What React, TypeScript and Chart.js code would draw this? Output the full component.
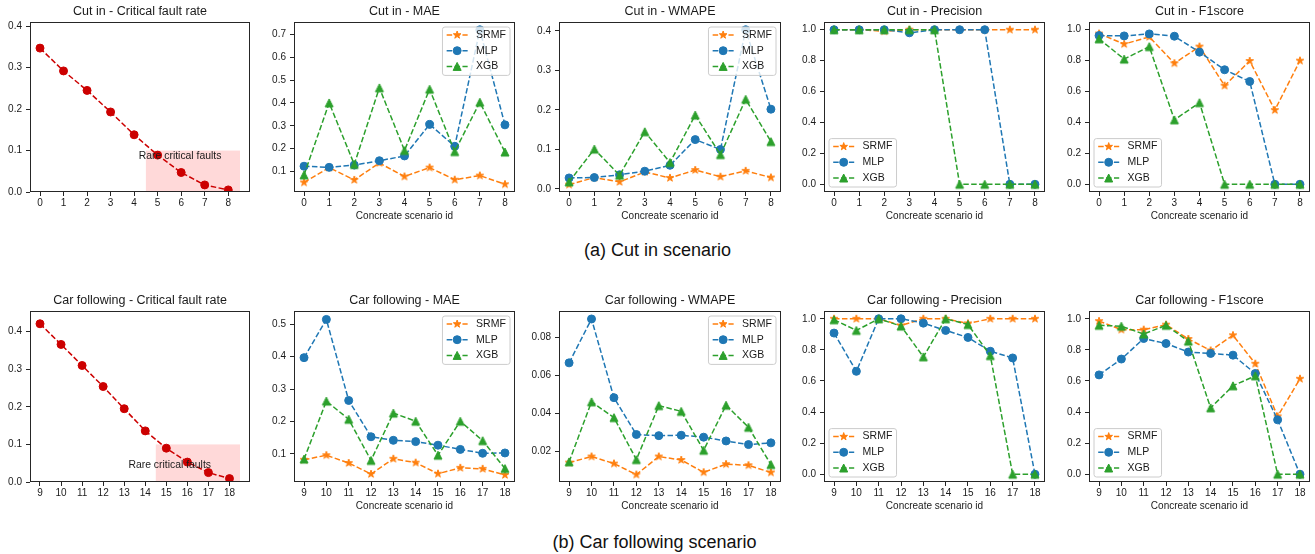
import React, { useEffect, useRef } from "react";
import { Chart, registerables } from "chart.js";

Chart.register(...registerables);

const FONT = '"Liberation Sans", Arial, Helvetica, sans-serif';
const TEXT = "#1a1a1a";

// ---------------- data ----------------
const cutInIds = [0, 1, 2, 3, 4, 5, 6, 7, 8];
const carFollowingIds = [9, 10, 11, 12, 13, 14, 15, 16, 17, 18];

const cutInCFR = [0.347, 0.292, 0.245, 0.193, 0.138, 0.089, 0.047, 0.017, 0.005];
const carFollowingCFR = [0.421, 0.366, 0.31, 0.254, 0.195, 0.136, 0.09, 0.053, 0.025, 0.009];

const cutInMAE_SRMF = [0.052, 0.117, 0.063, 0.137, 0.078, 0.117, 0.064, 0.082, 0.044];
const cutInMAE_MLP = [0.123, 0.118, 0.128, 0.147, 0.168, 0.306, 0.21, 0.72, 0.304];
const cutInMAE_XGB = [0.085, 0.4, 0.131, 0.466, 0.192, 0.46, 0.187, 0.403, 0.185];

const cutInWMAPE_SRMF = [0.011, 0.029, 0.018, 0.043, 0.028, 0.048, 0.031, 0.046, 0.029];
const cutInWMAPE_MLP = [0.028, 0.029, 0.036, 0.045, 0.06, 0.125, 0.1, 0.403, 0.202];
const cutInWMAPE_XGB = [0.018, 0.101, 0.035, 0.145, 0.067, 0.187, 0.087, 0.227, 0.12];

const cutInPrec_SRMF = [1, 1, 0.99, 1, 1, 1, 1, 1, 1];
const cutInPrec_MLP = [1, 1, 1, 0.98, 1, 1, 1, 0, 0];
const cutInPrec_XGB = [1, 1, 1, 1, 1, 0, 0, 0, 0];

const cutInF1_SRMF = [0.975, 0.907, 0.954, 0.783, 0.891, 0.638, 0.798, 0.48, 0.8];
const cutInF1_MLP = [0.962, 0.96, 0.973, 0.958, 0.855, 0.741, 0.665, 0, 0];
const cutInF1_XGB = [0.941, 0.81, 0.891, 0.417, 0.528, 0, 0, 0, 0];

const carMAE_SRMF = [0.082, 0.096, 0.072, 0.038, 0.085, 0.073, 0.039, 0.057, 0.054, 0.035];
const carMAE_MLP = [0.397, 0.515, 0.265, 0.153, 0.142, 0.138, 0.127, 0.114, 0.102, 0.103];
const carMAE_XGB = [0.084, 0.263, 0.207, 0.08, 0.226, 0.201, 0.096, 0.201, 0.141, 0.055];

const carWMAPE_SRMF = [0.014, 0.0172, 0.0135, 0.0077, 0.0172, 0.0154, 0.0089, 0.0132, 0.0126, 0.0088];
const carWMAPE_MLP = [0.0665, 0.0896, 0.0482, 0.0288, 0.0282, 0.0284, 0.0274, 0.0254, 0.0235, 0.0244];
const carWMAPE_XGB = [0.0144, 0.046, 0.0377, 0.0156, 0.044, 0.041, 0.0205, 0.0442, 0.0326, 0.013];

const carPrec_SRMF = [1, 1, 1, 0.957, 1, 1, 0.97, 1, 1, 1];
const carPrec_MLP = [0.908, 0.662, 1, 1, 0.972, 0.925, 0.88, 0.791, 0.748, 0];
const carPrec_XGB = [0.994, 0.925, 1, 0.953, 0.755, 1, 0.963, 0.763, 0, 0];

const carF1_SRMF = [0.985, 0.93, 0.93, 0.962, 0.87, 0.796, 0.894, 0.711, 0.372, 0.614];
const carF1_MLP = [0.639, 0.741, 0.873, 0.841, 0.786, 0.777, 0.766, 0.648, 0.35, 0];
const carF1_XGB = [0.958, 0.952, 0.902, 0.958, 0.856, 0.427, 0.569, 0.633, 0, 0];

const cutInRareSpanX = [4.5, 8.5];
const carFollowingRareSpanX = [14.5, 18.5];
const rareSpanY = [0, 0.1];
const rareLabel = "Rare critical faults";
const cutInRareLabelAt = [4.2, 0.08];
const carFollowingRareLabelAt = [13.2, 0.037];

const yTicksRate = [0, 0.1, 0.2, 0.3, 0.4];
const yTicksScore = [0, 0.2, 0.4, 0.6, 0.8, 1.0];
const yTicksCutInMAE = [0.1, 0.2, 0.3, 0.4, 0.5, 0.6, 0.7];
const yTicksCarMAE = [0.1, 0.2, 0.3, 0.4, 0.5];
const yTicksCarWMAPE = [0.02, 0.04, 0.06, 0.08];

const xAxisTitle = "Concreate scenario id";
const captionA = "(a) Cut in scenario";
const captionB = "(b) Car following scenario";

// ---------------- styles / layout ----------------
type MarkerKind = "circle" | "star" | "triangle";
const SERIES_STYLE: Record<string, { color: string; marker: MarkerKind; order: number }> = {
  SRMF: { color: "#ff7f0e", marker: "star", order: 3 },
  MLP: { color: "#1f77b4", marker: "circle", order: 2 },
  XGB: { color: "#2ca02c", marker: "triangle", order: 1 },
};
const CFR_COLOR = "#cc0000";

const COL_LEFT = [30, 294, 559, 824, 1089];
const COL_RIGHT = [250, 515, 781, 1045, 1310];
const ROW_TOP = [22, 311];
const ROW_BOTTOM = [192, 482];
const PAD_L = 30;
const PAD_T = 22;
const PAD_R = 8;
const PAD_B = 32;

type Series = { label: string; values: number[]; color: string; marker: MarkerKind; order: number };
type Spec = {
  key: string;
  title: string;
  row: number;
  col: number;
  xs: number[];
  xMin: number;
  xMax: number;
  yMin: number;
  yMax: number;
  yTicks: number[];
  yDec: number;
  series: Series[];
  legend: "ur" | "ll" | null;
  xTitle: boolean;
  span?: { x: number[]; y: number[] };
  note?: { at: number[]; text: string };
};

function tri(a: number[], b: number[], c: number[]): Series[] {
  return [
    { label: "SRMF", values: a, ...SERIES_STYLE.SRMF },
    { label: "MLP", values: b, ...SERIES_STYLE.MLP },
    { label: "XGB", values: c, ...SERIES_STYLE.XGB },
  ];
}

const SPECS: Spec[] = [
  {
    key: "c1", title: "Cut in - Critical fault rate", row: 0, col: 0, xs: cutInIds,
    xMin: -0.425, xMax: 8.925, yMin: 0, yMax: 0.41, yTicks: yTicksRate, yDec: 1,
    series: [{ label: "CFR", values: cutInCFR, color: CFR_COLOR, marker: "circle", order: 1 }],
    legend: null, xTitle: false,
    span: { x: cutInRareSpanX, y: rareSpanY }, note: { at: cutInRareLabelAt, text: rareLabel },
  },
  {
    key: "c2", title: "Cut in - MAE", row: 0, col: 1, xs: cutInIds,
    xMin: -0.4, xMax: 8.4, yMin: 0.0102, yMax: 0.754, yTicks: yTicksCutInMAE, yDec: 1,
    series: tri(cutInMAE_SRMF, cutInMAE_MLP, cutInMAE_XGB), legend: "ur", xTitle: true,
  },
  {
    key: "c3", title: "Cut in - WMAPE", row: 0, col: 2, xs: cutInIds,
    xMin: -0.4, xMax: 8.4, yMin: -0.0076, yMax: 0.4226, yTicks: yTicksRate, yDec: 1,
    series: tri(cutInWMAPE_SRMF, cutInWMAPE_MLP, cutInWMAPE_XGB), legend: "ur", xTitle: true,
  },
  {
    key: "c4", title: "Cut in - Precision", row: 0, col: 3, xs: cutInIds,
    xMin: -0.4, xMax: 8.4, yMin: -0.05, yMax: 1.05, yTicks: yTicksScore, yDec: 1,
    series: tri(cutInPrec_SRMF, cutInPrec_MLP, cutInPrec_XGB), legend: "ll", xTitle: true,
  },
  {
    key: "c5", title: "Cut in - F1score", row: 0, col: 4, xs: cutInIds,
    xMin: -0.4, xMax: 8.4, yMin: -0.05, yMax: 1.05, yTicks: yTicksScore, yDec: 1,
    series: tri(cutInF1_SRMF, cutInF1_MLP, cutInF1_XGB), legend: "ll", xTitle: true,
  },
  {
    key: "f1", title: "Car following - Critical fault rate", row: 1, col: 0, xs: carFollowingIds,
    xMin: 8.525, xMax: 18.975, yMin: 0, yMax: 0.455, yTicks: yTicksRate, yDec: 1,
    series: [{ label: "CFR", values: carFollowingCFR, color: CFR_COLOR, marker: "circle", order: 1 }],
    legend: null, xTitle: false,
    span: { x: carFollowingRareSpanX, y: rareSpanY }, note: { at: carFollowingRareLabelAt, text: rareLabel },
  },
  {
    key: "f2", title: "Car following - MAE", row: 1, col: 1, xs: carFollowingIds,
    xMin: 8.55, xMax: 18.45, yMin: 0.0134, yMax: 0.541, yTicks: yTicksCarMAE, yDec: 1,
    series: tri(carMAE_SRMF, carMAE_MLP, carMAE_XGB), legend: "ur", xTitle: true,
  },
  {
    key: "f3", title: "Car following - WMAPE", row: 1, col: 2, xs: carFollowingIds,
    xMin: 8.55, xMax: 18.45, yMin: 0.0038, yMax: 0.0938, yTicks: yTicksCarWMAPE, yDec: 2,
    series: tri(carWMAPE_SRMF, carWMAPE_MLP, carWMAPE_XGB), legend: "ur", xTitle: true,
  },
  {
    key: "f4", title: "Car following - Precision", row: 1, col: 3, xs: carFollowingIds,
    xMin: 8.55, xMax: 18.45, yMin: -0.05, yMax: 1.05, yTicks: yTicksScore, yDec: 1,
    series: tri(carPrec_SRMF, carPrec_MLP, carPrec_XGB), legend: "ll", xTitle: true,
  },
  {
    key: "f5", title: "Car following - F1score", row: 1, col: 4, xs: carFollowingIds,
    xMin: 8.55, xMax: 18.45, yMin: -0.05, yMax: 1.05, yTicks: yTicksScore, yDec: 1,
    series: tri(carF1_SRMF, carF1_MLP, carF1_XGB), legend: "ll", xTitle: true,
  },
];

// ---------------- markers ----------------
function traceMarker(ctx: CanvasRenderingContext2D, kind: MarkerKind, x: number, y: number) {
  ctx.beginPath();
  if (kind === "circle") {
    ctx.arc(x, y, 4, 0, Math.PI * 2);
  } else if (kind === "star") {
    for (let i = 0; i < 10; i++) {
      const a = -Math.PI / 2 + (i * Math.PI) / 5;
      const r = i % 2 === 0 ? 4 : 4 * 0.381966;
      const px = x + r * Math.cos(a);
      const py = y + r * Math.sin(a);
      if (i === 0) ctx.moveTo(px, py);
      else ctx.lineTo(px, py);
    }
  } else {
    ctx.moveTo(x, y - 4);
    ctx.lineTo(x - 4, y + 4);
    ctx.lineTo(x + 4, y + 4);
  }
  ctx.closePath();
}

function paintMarker(ctx: CanvasRenderingContext2D, kind: MarkerKind, x: number, y: number, color: string) {
  ctx.save();
  traceMarker(ctx, kind, x, y);
  ctx.fillStyle = color;
  ctx.fill();
  ctx.lineWidth = 1;
  ctx.strokeStyle = color;
  ctx.lineJoin = "miter";
  ctx.setLineDash([]);
  ctx.stroke();
  ctx.restore();
}

function markerImage(kind: MarkerKind, color: string): HTMLCanvasElement {
  const c = document.createElement("canvas");
  c.width = 14;
  c.height = 14;
  const ctx = c.getContext("2d")!;
  paintMarker(ctx, kind, 7, 7, color);
  return c;
}

function makeFigPlugin(spec: Spec) {
  return {
    id: "figDecor" + spec.key,
    beforeDatasetsDraw(chart: any) {
      if (!spec.span) return;
      const ctx: CanvasRenderingContext2D = chart.ctx;
      const ca = chart.chartArea;
      const xs = chart.scales.x;
      const ys = chart.scales.y;
      const x0 = xs.getPixelForValue(spec.span.x[0]);
      const x1 = xs.getPixelForValue(spec.span.x[1]);
      const y0 = ys.getPixelForValue(spec.span.y[0]);
      const y1 = ys.getPixelForValue(spec.span.y[1]);
      ctx.save();
      ctx.beginPath();
      ctx.rect(ca.left, ca.top, ca.right - ca.left, ca.bottom - ca.top);
      ctx.clip();
      ctx.fillStyle = "rgba(255,0,0,0.15)";
      ctx.fillRect(x0, y1, x1 - x0, y0 - y1);
      ctx.restore();
    },
    afterDatasetsDraw(chart: any) {
      const ctx: CanvasRenderingContext2D = chart.ctx;
      const ca = chart.chartArea;
      if (spec.note) {
        const xs = chart.scales.x;
        const ys = chart.scales.y;
        ctx.save();
        ctx.font = `10.4px ${FONT}`;
        ctx.fillStyle = TEXT;
        ctx.textAlign = "left";
        ctx.textBaseline = "alphabetic";
        ctx.fillText(spec.note.text, xs.getPixelForValue(spec.note.at[0]), ys.getPixelForValue(spec.note.at[1]));
        ctx.restore();
      }
      if (spec.legend) {
        const fs = 10.5;
        const pad = 0.4 * fs;
        const hl = 2 * fs;
        const htp = 0.8 * fs;
        ctx.save();
        ctx.font = `${fs}px ${FONT}`;
        const maxW = Math.max(...spec.series.map((s) => ctx.measureText(s.label).width));
        const w = pad + hl + htp + maxW + pad;
        const h = 48.4;
        const bx = spec.legend === "ur" ? ca.right - 5 - w : ca.left + 5;
        const by = spec.legend === "ur" ? ca.top + 5 : ca.bottom - 5 - h;
        const r = 2.5;
        ctx.beginPath();
        ctx.moveTo(bx + r, by);
        ctx.arcTo(bx + w, by, bx + w, by + h, r);
        ctx.arcTo(bx + w, by + h, bx, by + h, r);
        ctx.arcTo(bx, by + h, bx, by, r);
        ctx.arcTo(bx, by, bx + w, by, r);
        ctx.closePath();
        ctx.fillStyle = "rgba(255,255,255,0.8)";
        ctx.fill();
        ctx.strokeStyle = "#cccccc";
        ctx.lineWidth = 1;
        ctx.stroke();
        spec.series.forEach((s, i) => {
          const yy = by + 8 + i * 15.7;
          ctx.save();
          ctx.strokeStyle = s.color;
          ctx.lineWidth = 1.5;
          ctx.setLineDash([5.5, 2.4]);
          ctx.beginPath();
          ctx.moveTo(bx + pad, yy);
          ctx.lineTo(bx + pad + hl, yy);
          ctx.stroke();
          ctx.restore();
          paintMarker(ctx, s.marker, bx + pad + hl / 2, yy, s.color);
          ctx.fillStyle = TEXT;
          ctx.textAlign = "left";
          ctx.textBaseline = "middle";
          ctx.fillText(s.label, bx + pad + hl + htp, yy);
        });
        ctx.restore();
      }
    },
    afterDraw(chart: any) {
      const ctx: CanvasRenderingContext2D = chart.ctx;
      const ca = chart.chartArea;
      ctx.save();
      ctx.strokeStyle = "#262626";
      ctx.lineWidth = 1;
      ctx.setLineDash([]);
      ctx.strokeRect(ca.left + 0.5, ca.top + 0.5, ca.right - ca.left - 1, ca.bottom - ca.top - 1);
      ctx.font = `12.5px ${FONT}`;
      ctx.fillStyle = TEXT;
      ctx.textAlign = "center";
      ctx.textBaseline = "middle";
      ctx.fillText(spec.title, (ca.left + ca.right) / 2, ca.top - 10.5);
      ctx.restore();
    },
  };
}

function SubChart({ spec }: { spec: Spec }) {
  const ref = useRef<HTMLCanvasElement>(null);
  const boxL = COL_LEFT[spec.col];
  const boxR = COL_RIGHT[spec.col];
  const boxT = ROW_TOP[spec.row];
  const boxB = ROW_BOTTOM[spec.row];
  const W = PAD_L + (boxR - boxL) + PAD_R;
  const H = PAD_T + (boxB - boxT) + PAD_B;

  useEffect(() => {
    const canvas = ref.current;
    if (!canvas) return;
    const datasets = spec.series.map((s) => ({
      label: s.label,
      data: spec.xs.map((x, i) => ({ x, y: s.values[i] })),
      borderColor: s.color,
      backgroundColor: s.color,
      borderWidth: 1.5,
      borderDash: [5.5, 2.4],
      borderCapStyle: "butt",
      borderJoinStyle: "round",
      pointStyle: s.marker === "circle" ? "circle" : markerImage(s.marker, s.color),
      pointRadius: 4,
      pointBorderWidth: 1,
      pointBackgroundColor: s.color,
      pointBorderColor: s.color,
      tension: 0,
      fill: false,
      order: s.order,
    }));
    const tickFont = { family: FONT, size: 10, lineHeight: 1.2 };
    const chart = new Chart(canvas, {
      type: "line",
      data: { datasets } as any,
      options: {
        responsive: false,
        animation: false,
        devicePixelRatio: 1,
        events: [],
        layout: { padding: { top: PAD_T, right: PAD_R, left: 0, bottom: 0 } },
        plugins: {
          legend: { display: false },
          tooltip: { enabled: false },
          title: { display: false },
        },
        scales: {
          x: {
            type: "linear",
            min: spec.xMin,
            max: spec.xMax,
            bounds: "data",
            afterBuildTicks: (s: any) => {
              s.ticks = spec.xs.map((v) => ({ value: v }));
            },
            afterFit: (s: any) => {
              s.height = PAD_B;
            },
            ticks: {
              autoSkip: false,
              maxRotation: 0,
              minRotation: 0,
              padding: 1,
              font: tickFont,
              color: TEXT,
              callback: (v: any) => String(v),
            },
            grid: {
              display: true,
              drawOnChartArea: false,
              drawTicks: true,
              tickLength: 4,
              tickColor: "#262626",
              tickWidth: 1,
            },
            border: { display: false },
            title: {
              display: spec.xTitle,
              text: xAxisTitle,
              font: tickFont,
              color: TEXT,
              padding: { top: 0, bottom: 2 },
            },
          },
          y: {
            type: "linear",
            min: spec.yMin,
            max: spec.yMax,
            bounds: "data",
            afterBuildTicks: (s: any) => {
              s.ticks = spec.yTicks.map((v) => ({ value: v }));
            },
            afterFit: (s: any) => {
              s.width = PAD_L;
            },
            ticks: {
              autoSkip: false,
              padding: 4,
              font: tickFont,
              color: TEXT,
              callback: (v: any) => Number(v).toFixed(spec.yDec),
            },
            grid: {
              display: true,
              drawOnChartArea: false,
              drawTicks: true,
              tickLength: 4,
              tickColor: "#262626",
              tickWidth: 1,
            },
            border: { display: false },
          },
        },
      } as any,
      plugins: [makeFigPlugin(spec) as any],
    });
    return () => chart.destroy();
  }, [spec]);

  return (
    <canvas
      ref={ref}
      width={W}
      height={H}
      style={{ position: "absolute", left: boxL - PAD_L, top: boxT - PAD_T, width: W, height: H }}
    />
  );
}

const captionStyle: React.CSSProperties = {
  position: "absolute",
  left: 0,
  width: 1315,
  textAlign: "center",
  fontFamily: FONT,
  fontSize: 18,
  lineHeight: "20px",
  height: 20,
  color: "#111",
};

export default function App() {
  return (
    <div style={{ position: "absolute", left: 0, top: 0, width: 1315, height: 554, background: "#fff", overflow: "hidden" }}>
      {SPECS.map((s) => (
        <SubChart key={s.key} spec={s} />
      ))}
      <div style={{ ...captionStyle, top: 240, left: 0 }}>{captionA}</div>
      <div style={{ ...captionStyle, top: 532, left: -3 }}>{captionB}</div>
    </div>
  );
}
